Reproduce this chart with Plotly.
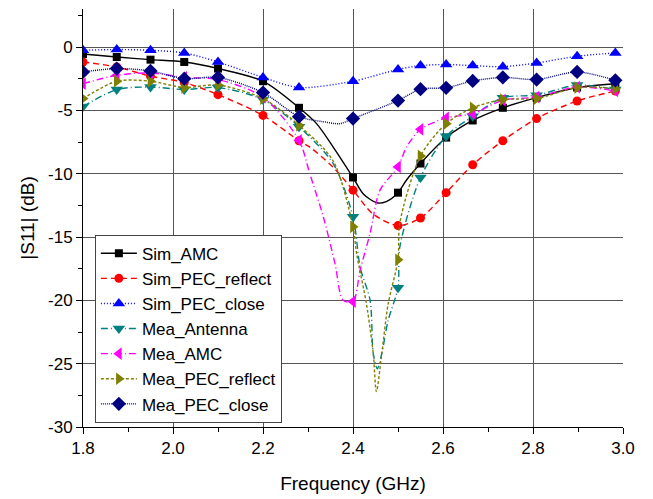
import plotly.graph_objects as go

# Marker frequencies (GHz), shared by all series
marker_freq = [1.8, 1.875, 1.95, 2.025, 2.1, 2.2, 2.28, 2.4, 2.5, 2.55, 2.607, 2.666, 2.733, 2.808, 2.898, 2.983]

# |S11| (dB) at marker frequencies
sim_amc = [-0.55, -0.79, -1.0, -1.18, -1.7, -2.7, -4.8, -10.3, -11.5, -9.2, -7.15, -5.8, -4.8, -4.0, -3.2, -2.9]
sim_pec_reflect = [-1.18, -1.58, -2.3, -2.8, -3.76, -5.4, -7.4, -11.3, -14.1, -13.5, -11.5, -9.3, -7.4, -5.65, -4.26, -3.47]
sim_pec_close = [-0.26, -0.2, -0.26, -0.47, -1.18, -2.4, -3.2, -2.7, -1.77, -1.47, -1.38, -1.47, -1.55, -1.26, -0.73, -0.47]
mea_antenna = [-4.7, -3.36, -3.16, -3.36, -3.2, -4.15, -6.3, -13.4, -19.0, -10.3, -7.05, -5.47, -4.0, -3.8, -3.0, -3.36]
mea_amc = [-2.9, -2.23, -2.05, -2.4, -2.57, -3.95, -7.37, -20.1, -9.47, -6.5, -5.6, -5.26, -4.2, -3.95, -3.16, -3.47]
mea_pec_reflect = [-4.07, -2.7, -2.7, -3.2, -3.0, -4.07, -6.18, -14.2, -16.8, -8.6, -6.05, -4.8, -4.15, -4.07, -3.2, -3.29]
mea_pec_close = [-1.97, -1.7, -1.89, -2.5, -2.4, -3.6, -5.5, -5.65, -4.23, -3.33, -3.22, -2.68, -2.4, -2.57, -1.97, -2.63]

# Additional curve points between markers (frequency, dB)
sim_amc_extra_f = [2.319, 2.356, 2.423, 2.453, 2.474, 2.519]
sim_amc_extra_db = [-6.05, -7.9, -11.6, -12.3, -12.2, -10.5]
sim_pec_reflect_extra_f = [2.304, 2.356, 2.445]
sim_pec_reflect_extra_db = [-7.9, -9.5, -13.2]
sim_pec_close_extra_f = []
sim_pec_close_extra_db = []
mea_antenna_extra_f = [2.356, 2.416, 2.438, 2.445, 2.454, 2.464, 2.478, 2.504]
mea_antenna_extra_db = [-9.2, -17.4, -20.0, -24.2, -25.4, -24.2, -21.6, -15.8]
mea_amc_extra_f = [2.304, 2.334, 2.36, 2.378, 2.416, 2.438, 2.46, 2.519]
mea_amc_extra_db = [-10.0, -13.4, -17.1, -20.0, -17.6, -14.7, -11.3, -7.9]
mea_pec_reflect_extra_f = [2.356, 2.408, 2.43, 2.445, 2.452, 2.464, 2.478, 2.504]
mea_pec_reflect_extra_db = [-9.0, -16.3, -20.3, -24.2, -27.2, -24.2, -20.3, -13.9]
mea_pec_close_extra_f = [2.334, 2.371]
mea_pec_close_extra_db = [-5.9, -6.05]

series_names = ["Sim_AMC", "Sim_PEC_reflect", "Sim_PEC_close", "Mea_Antenna",
                "Mea_AMC", "Mea_PEC_reflect", "Mea_PEC_close"]

x_ticks = [1.8, 2.0, 2.2, 2.4, 2.6, 2.8, 3.0]
x_tick_labels = ["1.8", "2.0", "2.2", "2.4", "2.6", "2.8", "3.0"]
y_ticks = [0, -5, -10, -15, -20, -25, -30]
y_tick_labels = ["0", "-5", "-10", "-15", "-20", "-25", "-30"]

data = [
    (sim_amc, sim_amc_extra_f, sim_amc_extra_db),
    (sim_pec_reflect, sim_pec_reflect_extra_f, sim_pec_reflect_extra_db),
    (sim_pec_close, sim_pec_close_extra_f, sim_pec_close_extra_db),
    (mea_antenna, mea_antenna_extra_f, mea_antenna_extra_db),
    (mea_amc, mea_amc_extra_f, mea_amc_extra_db),
    (mea_pec_reflect, mea_pec_reflect_extra_f, mea_pec_reflect_extra_db),
    (mea_pec_close, mea_pec_close_extra_f, mea_pec_close_extra_db),
]

styles = [
    dict(color="#000000", dash="solid", symbol="square", size=8),
    dict(color="#ff0000", dash="6px,4px", symbol="circle", size=9),
    dict(color="#0000ff", dash="1px,2px", symbol="triangle-up", size=11),
    dict(color="#008080", dash="7px,3px,1px,3px", symbol="triangle-down", size=11),
    dict(color="#ff00ff", dash="7px,3px,1px,3px", symbol="triangle-left", size=11),
    dict(color="#808000", dash="3px,2px", symbol="triangle-right", size=11),
    dict(color="#000080", dash="1px,1px", symbol="diamond", size=11),
]

fig = go.Figure()
for name, (vals, ef, edb), st in zip(series_names, data, styles):
    pts = [(f, v, True) for f, v in zip(marker_freq, vals)] + [(f, v, False) for f, v in zip(ef, edb)]
    pts.sort(key=lambda p: p[0])
    xs = [p[0] for p in pts]
    ys = [p[1] for p in pts]
    sizes = [st["size"] if p[2] else 0 for p in pts]
    fig.add_trace(go.Scatter(
        x=xs, y=ys, mode="lines+markers", name=name, showlegend=False,
        line=dict(color=st["color"], dash=st["dash"], width=1.4, shape="spline", smoothing=0.8),
        marker=dict(symbol=st["symbol"], size=sizes, color=st["color"], opacity=1, line=dict(width=0)),
    ))
    # legend entry
    fig.add_trace(go.Scatter(
        x=[None], y=[None], mode="lines+markers", name=name,
        line=dict(color=st["color"], dash=st["dash"], width=1.4),
        marker=dict(symbol=st["symbol"], size=st["size"], color=st["color"], opacity=1, line=dict(width=0)),
    ))

font_family = "Liberation Sans, Arial, sans-serif"
common_x = dict(range=[1.8, 3.0], showline=True, linecolor="black", linewidth=1,
                zeroline=False)
common_y = dict(range=[-30, 3], showline=True, linecolor="black", linewidth=1,
                zeroline=False)

fig.update_layout(
    width=645, height=491,
    margin=dict(l=75, r=30, t=1, b=72),
    paper_bgcolor="white", plot_bgcolor="white",
    font=dict(family=font_family, size=17, color="black"),
    xaxis=dict(**common_x, tickvals=x_ticks, ticktext=x_tick_labels,
               ticks="outside", ticklen=6, tickcolor="black",
               showgrid=True, gridcolor="#555555", gridwidth=1,
               minor=dict(ticks="outside", ticklen=4, dtick=0.1, tick0=1.8, tickcolor="black", showgrid=False),
               title=dict(text="Frequency (GHz)", font=dict(size=19), standoff=19)),
    yaxis=dict(**common_y, tickvals=y_ticks, ticktext=y_tick_labels,
               ticks="outside", ticklen=6, tickcolor="black",
               showgrid=True, gridcolor="#555555", gridwidth=1,
               minor=dict(ticks="outside", ticklen=4, dtick=2.5, tick0=0, tickcolor="black", showgrid=False),
               title=dict(text="|S11| (dB)", font=dict(size=19), standoff=8)),
    xaxis2=dict(**common_x, overlaying="x", side="top", anchor="y", dtick=0.2, tick0=1.8,
                ticks="inside", ticklen=6, tickcolor="black", showticklabels=False, showgrid=False,
                minor=dict(ticks="inside", ticklen=4, dtick=0.1, tick0=1.8, tickcolor="black", showgrid=False)),
    yaxis2=dict(**common_y, overlaying="y", side="right", anchor="x", dtick=5, tick0=0,
                ticks="inside", ticklen=6, tickcolor="black", showticklabels=False, showgrid=False,
                minor=dict(ticks="inside", ticklen=4, dtick=2.5, tick0=0, tickcolor="black", showgrid=False)),
    legend=dict(x=0.022, y=0.46, xanchor="left", yanchor="top",
                bgcolor="white", bordercolor="#444444", borderwidth=1,
                font=dict(size=17), itemwidth=36, tracegroupgap=0),
)

fig.write_html("out.html")
